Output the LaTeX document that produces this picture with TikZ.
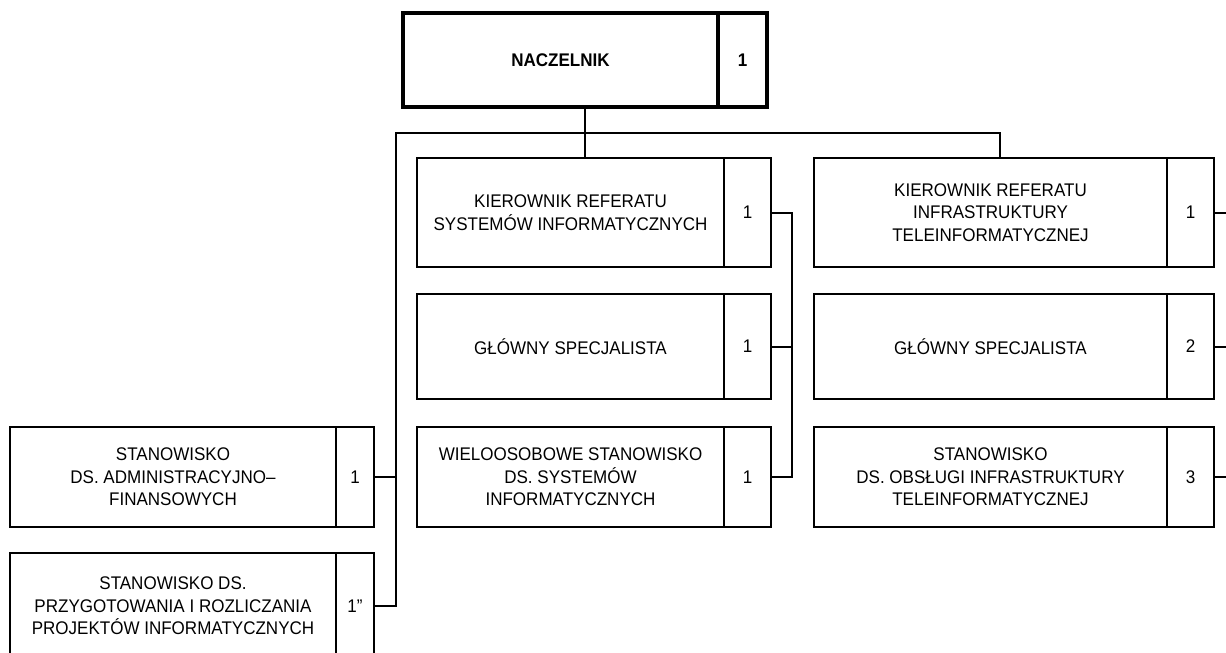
\documentclass[tikz,border=0pt]{standalone}
\usepackage{fontspec}
\setmainfont{Liberation Sans}[FakeStretch=0.93]
\usetikzlibrary{positioning,calc}

\tikzset{
  komorka/.style={draw, line width=2pt, outer sep=0pt, inner sep=2pt, align=center,
    font=\fontsize{18.3}{22.5}\selectfont},
  gruba/.style={komorka, line width=4pt, font=\fontsize{18.3}{22.5}\selectfont\bfseries},
  linia/.style={line width=2pt},
}

\begin{document}
\begin{tikzpicture}[x=1pt,y=-1pt]
    \useasboundingbox (0,0) rectangle (1226,653);

    % naczelnik
    \node[gruba, minimum width=315, minimum height=94, anchor=north west] (nacz) at (403,13) {NACZELNIK};
    \node[gruba, minimum width=49, minimum height=94, right=0pt of nacz] (naczN) {1};

    % referat systemow informatycznych
    \node[komorka, minimum width=307, minimum height=109, anchor=north west] (kierSI) at (417,158)
      {KIEROWNIK REFERATU\\SYSTEMÓW INFORMATYCZNYCH};
    \node[komorka, minimum width=47, minimum height=109, right=0pt of kierSI] (kierSIn) {1};
    \node[komorka, minimum width=307, minimum height=105, anchor=north west] (specSI) at (417,294)
      {GŁÓWNY SPECJALISTA};
    \node[komorka, minimum width=47, minimum height=105, right=0pt of specSI] (specSIn) {1};
    \node[komorka, minimum width=307, minimum height=100, anchor=north west] (wielo) at (417,427)
      {WIELOOSOBOWE STANOWISKO\\DS. SYSTEMÓW\\INFORMATYCZNYCH};
    \node[komorka, minimum width=47, minimum height=100, right=0pt of wielo] (wieloN) {1};

    % referat infrastruktury teleinformatycznej
    \node[komorka, minimum width=353, minimum height=109, anchor=north west] (kierIT) at (814,158)
      {KIEROWNIK REFERATU\\INFRASTRUKTURY\\TELEINFORMATYCZNEJ};
    \node[komorka, minimum width=47, minimum height=109, right=0pt of kierIT] (kierITn) {1};
    \node[komorka, minimum width=353, minimum height=105, anchor=north west] (specIT) at (814,294)
      {GŁÓWNY SPECJALISTA};
    \node[komorka, minimum width=47, minimum height=105, right=0pt of specIT] (specITn) {2};
    \node[komorka, minimum width=353, minimum height=100, anchor=north west] (obslIT) at (814,427)
      {STANOWISKO\\DS. OBSŁUGI INFRASTRUKTURY\\TELEINFORMATYCZNEJ};
    \node[komorka, minimum width=47, minimum height=100, right=0pt of obslIT] (obslITn) {3};

    % stanowiska samodzielne
    \node[komorka, minimum width=326, minimum height=100, anchor=north west] (adm) at (10,427)
      {STANOWISKO\\DS. ADMINISTRACYJNO–\\FINANSOWYCH};
    \node[komorka, minimum width=38, minimum height=100, right=0pt of adm] (admN) {1};
    \node[komorka, minimum width=326, minimum height=106, anchor=north west] (przyg) at (10,553)
      {STANOWISKO DS.\\PRZYGOTOWANIA I ROZLICZANIA\\PROJEKTÓW INFORMATYCZNYCH};
    \node[komorka, minimum width=38, minimum height=106, right=0pt of przyg] (przygN) {1”};

    % polaczenia
    \coordinate (srodek) at ($(nacz.south west)!.5!(naczN.south east)$);
    \coordinate (szynaL) at (396,133);
    \coordinate (szynaP) at (1000,133);
    \coordinate (klamraSI) at (792,0);
    \coordinate (krawedz) at (1230,0);

    \draw[linia] (srodek) -- (srodek |- kierSI.north);
    \draw[linia] (przygN.east) -| (szynaL) -- (szynaP) -- (szynaP |- kierIT.north);
    \draw[linia] (admN.east) -- (admN.east -| szynaL);

    \draw[linia] (kierSIn.east) -| (klamraSI |- wieloN.east) -- (wieloN.east);
    \draw[linia] (specSIn.east) -- (specSIn.east -| klamraSI);

    \foreach \n in {kierITn,specITn,obslITn}
      \draw[linia] (\n.east) -- (\n.east -| krawedz);
\end{tikzpicture}
\end{document}
